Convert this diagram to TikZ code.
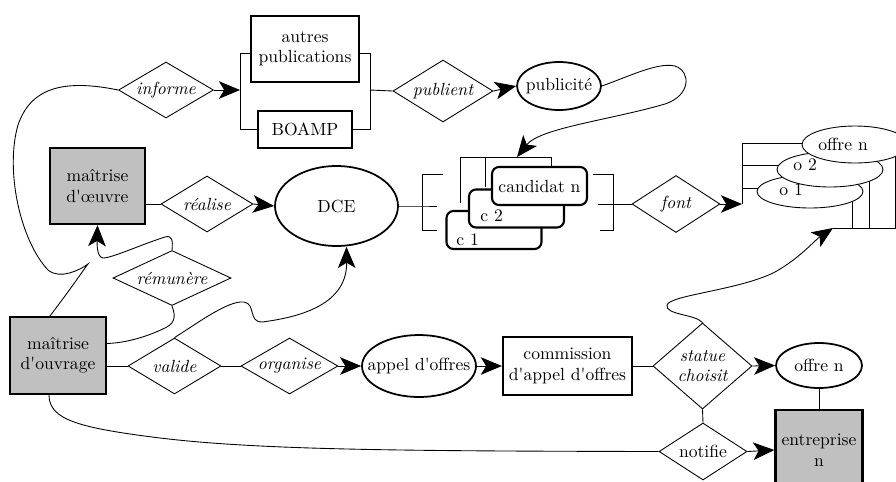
\documentclass[tikz,border=0pt]{standalone}
\usetikzlibrary{shapes.geometric,arrows.meta}
\definecolor{actorgray}{RGB}{192,192,192}
\newcommand{\ap}{\textquotesingle}

\begin{document}
\begin{tikzpicture}[x=0.02cm,y=-0.02cm,
		font=\fontsize{10}{11.6}\selectfont,
		every node/.style={inner sep=0pt, align=center},
		line width=0.5pt,
		arr/.style={-{Stealth[length=12pt,width=10pt,inset=3pt]}},
		rel/.style={diamond, draw, line width=0.5pt, fill=white, aspect=1.75,
			font=\fontsize{10}{11.6}\selectfont\itshape,
			minimum width=1.9cm, minimum height=1.12cm},
		actor/.style={rectangle, draw, line width=1.3pt, fill=actorgray,
			minimum width=1.9cm, minimum height=1.52cm},
		doc/.style={rectangle, draw, line width=1.3pt, fill=white},
		item/.style={ellipse, draw, line width=1pt, fill=white, inner sep=-0.5cm},
		cand/.style={rectangle, rounded corners=4pt, draw, line width=1.2pt, fill=white,
			minimum width=1.9cm, minimum height=0.76cm},
		offer/.style={ellipse, draw, line width=0.5pt, fill=white, inner sep=-0.5cm,
			minimum width=2.12cm}]
		\useasboundingbox (0,0) rectangle (896,481);

		% publications
		\node[doc, minimum width=2.16cm, minimum height=1.32cm] (autres) at (305,49) {autres\\publications};
		\node[doc, minimum width=1.88cm, minimum height=0.74cm] (boamp) at (305,129.5) {BOAMP};
		\node[rel] (informe) at (166,90) {informe};
		\node[rel, minimum width=2cm, minimum height=1.24cm] (publient) at (443,91) {publient};
		\node[item, minimum width=1.68cm, minimum height=0.96cm] (publicite) at (559,86) {publicité};
		\coordinate (pubL) at (240,90);
		\coordinate (pubR) at (370,90);
		\draw ([yshift=-0.08cm]autres.west) -| (pubL |- boamp.west) -- (boamp.west);
		\draw ([yshift=-0.08cm]autres.east) -| (pubR |- boamp.east) -- (boamp.east);
		\draw [arr] (informe.east) -- (pubL);
		\draw (pubR) -- (publient.west);
		\draw [arr] (publient.east) -- (publicite.west);

		% maitrise d'oeuvre, DCE
		\node[actor] (oeuvre) at (97.5,186) {maîtrise\\d\ap{}œuvre};
		\node[rel, minimum width=1.84cm] (realise) at (207,204) {réalise};
		\node[item, minimum width=2.46cm, minimum height=1.6cm] (dce) at (336.5,206) {DCE};
		\draw (realise.west) -- (realise.west -| oeuvre.east);
		\draw [arr] (realise.east) -- (dce.west);

		% candidats
		\node[cand] (c1) at (494,230) {};
		\node[anchor=base west] (c1lbl) at (456,245) {c 1};
		\node[cand] (c2) at (516.5,208.5) {};
		\node[anchor=base west] (c2lbl) at (480,221) {c 2};
		\node[cand] (candn) at (539.5,186) {candidat n};
		\coordinate (candL) at (422,206);
		\coordinate (candR) at (598,204);
		\coordinate (candT) at (517,157);
		\draw (dce.east) -- (candL) -- +(15,0);
		\draw (443,174) -| (422,230) -- (437,230);
		\draw (593,174) -| (613,230) -- (600,230);
		\draw (460,203) |- (551,157) -- (candn.north -| 551,0);
		\draw (485,157) -- (485,187);
		\draw [arr] (publicite.east) .. controls (630,76) and (658,62) .. (675,66)
			.. controls (692,72) and (690,96) .. (665,104)
			.. controls (610,120) and (540,128) .. (candT);

		% offres
		\node[rel, minimum width=1.76cm, minimum height=1.14cm] (font) at (676,204) {font};
		\coordinate (offL) at (742,204);
		\coordinate (offB) at (833,228);
		\draw (candR) -- (font.west);
		\draw [arr] (font.east) -- (offL);
		\draw (offL) |- (805,143);
		\draw (742,165) -- (782,165);
		\draw (742,188) -- (760,188);
		\draw (offB) -- (895,228) -- (895,150);
		\draw (852,228) -- (852,195);
		\draw (869,228) -- (869,178);
		\node[offer, minimum height=0.66cm] (o1) at (810,191.5) {};
		\node[anchor=base west] (o1lbl) at (779,195) {o 1};
		\node[offer, minimum height=0.7cm] (o2) at (830,169.5) {};
		\node[anchor=base west] (o2lbl) at (793,170) {o 2};
		\node[offer, minimum height=0.74cm] (offren) at (855,144.5) {};
		\node[anchor=base west] (offrenlbl) at (818,150) {offre n};

		% maitrise d'ouvrage
		\node[actor, minimum width=1.92cm, minimum height=1.54cm] (ouvrage) at (58,355.5) {maîtrise\\d\ap{}ouvrage};
		\node[rel, minimum width=2.36cm, minimum height=1.1cm] (remunere) at (172,278) {rémunère};
		\node[rel, minimum width=1.86cm] (valide) at (174.5,366) {valide};
		\node[rel, minimum width=1.94cm] (organise) at (289.5,366) {organise};
		\node[item, minimum width=2.28cm, minimum height=1.24cm] (appel) at (419,366) {appel d\ap{}offres};
		\node[doc, minimum width=2.58cm, minimum height=1.16cm] (commission) at (567.5,366) {commission\\d\ap{}appel d\ap{}offres};
		\node[rel, aspect=1.15, minimum width=1.98cm, minimum height=1.72cm] (statue) at (702.5,366) {statue\\choisit};
		\node[item, minimum width=1.72cm, minimum height=0.9cm] (offreb) at (819,365.5) {offre n};
		\node[rel, font=\fontsize{10}{11.6}\selectfont, minimum width=1.76cm, minimum height=1.14cm] (notifie) at (703,451.5) {notifie};
		\node[actor, minimum width=1.74cm, minimum height=1.6cm, font=\fontsize{10}{12}\selectfont] (entreprise) at (819,450) {entreprise\\n};

		\draw (valide.west) -- (valide.west -| ouvrage.east);
		\draw (valide.east) -- (organise.west);
		\draw [arr] (organise.east) -- (appel.west);
		\draw [arr] (appel.east) -- (commission.west);
		\draw (commission.east) -- (statue.west);
		\draw [arr] (statue.east) -- (offreb.west);
		\draw (offreb.south) -- (entreprise.north);
		\draw (statue.south) -- (notifie.north);
		\draw [arr] (notifie.east) -- (entreprise.west);

		% curves
		\draw ([xshift=-0.16cm]ouvrage.north) .. controls (70,290) and (84,269) .. (88,264)
			.. controls (80,270) and (60,280) .. (48,270)
			.. controls (20,240) and (5,170) .. (18,125)
			.. controls (30,90) and (60,78) .. (informe.west);
		\draw [arr] (remunere.north) .. controls (173,240) and (172,235) .. (165,237)
			.. controls (140,245) and (112,258) .. (103,258)
			.. controls (97,257) and (97,245) .. (oeuvre.south);
		\draw (remunere.south) .. controls (174,312) and (178,322) .. (165,328)
			.. controls (140,340) and (120,343) .. ([yshift=0.24cm]ouvrage.east);
		\draw [arr] (valide.north) .. controls (195,325) and (228,300) .. (244,302)
			.. controls (256,304) and (248,322) .. (262,322)
			.. controls (310,316) and (347,300) .. ([xshift=0.2cm]dce.south);
		\draw [arr] (statue.north) .. controls (695,314) and (665,315) .. (667,305)
			.. controls (670,295) and (740,290) .. (775,272)
			.. controls (800,258) and (815,240) .. (offB);
		\draw ([xshift=-0.18cm]ouvrage.south) .. controls (49,420) and (80,428) .. (160,438)
			.. controls (260,450) and (400,451) .. (notifie.west);

  \end{tikzpicture}
\end{document}
